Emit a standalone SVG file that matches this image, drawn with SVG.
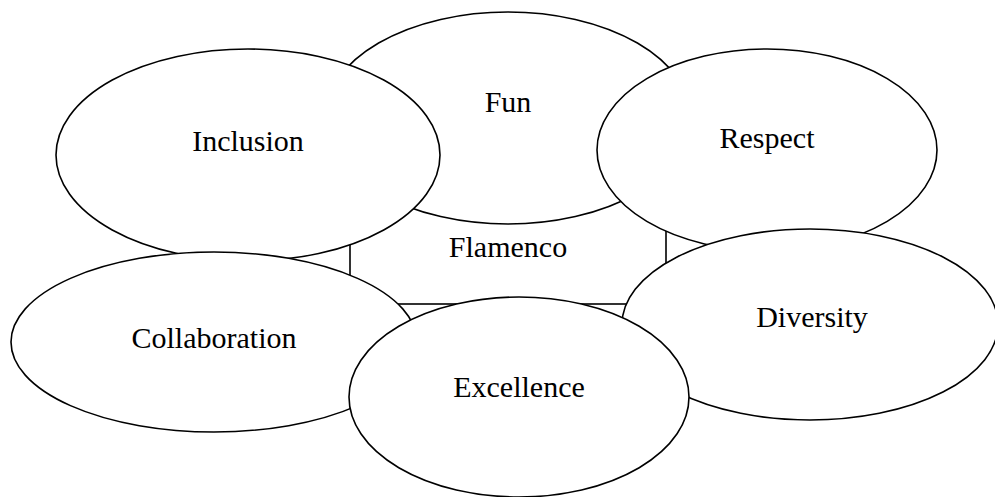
<svg xmlns="http://www.w3.org/2000/svg" width="995" height="497" viewBox="0 0 995 497">
<style>
.shape{fill:#ffffff;stroke:#000000;stroke-width:1.6}
.lbl{font-family:"Liberation Serif","Times New Roman",serif;font-size:30px;fill:#000000;text-anchor:middle}
</style>
<rect width="995" height="497" fill="#ffffff"/>
<g id="flamenco">
<rect class="shape" x="350" y="190" width="316" height="114"/>
<text class="lbl" x="508" y="257">Flamenco</text>
</g>
<g id="connectors"></g>
<g id="fun">
<ellipse class="shape" cx="508" cy="118" rx="183" ry="106"/>
<text class="lbl" x="508" y="112">Fun</text>
</g>
<g id="inclusion">
<ellipse class="shape" cx="248" cy="155" rx="192" ry="106"/>
<text class="lbl" x="248" y="151">Inclusion</text>
</g>
<g id="respect">
<ellipse class="shape" cx="767" cy="150" rx="170" ry="101"/>
<text class="lbl" x="767" y="148">Respect</text>
</g>
<g id="collaboration">
<ellipse class="shape" cx="214" cy="342" rx="203" ry="90"/>
<text class="lbl" x="214" y="348">Collaboration</text>
</g>
<g id="diversity">
<ellipse class="shape" cx="810" cy="324.5" rx="188" ry="95.5"/>
<text class="lbl" x="812" y="327">Diversity</text>
</g>
<g id="excellence">
<ellipse class="shape" cx="519" cy="397" rx="170" ry="100"/>
<text class="lbl" x="519" y="397">Excellence</text>
</g>
</svg>
